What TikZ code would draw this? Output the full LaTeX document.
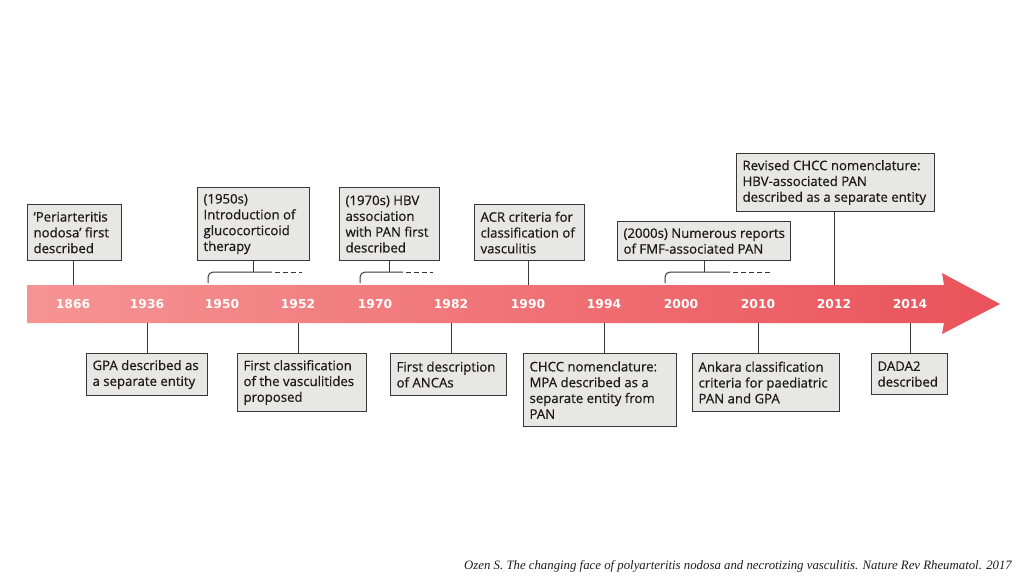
\documentclass[tikz,border=0pt]{standalone}
\usepackage{fontspec}
\setmainfont{Open Sans}
\newfontfamily\boxfont{Open Sans}[FakeBold=0.6]
\newfontfamily\yearfont{DejaVu Sans}
\newfontfamily\capfont{Liberation Serif}
\definecolor{bandL}{RGB}{246,148,148}
\definecolor{bandR}{RGB}{234,82,90}
\definecolor{boxfill}{RGB}{231,231,227}
\definecolor{boxline}{RGB}{55,55,55}
\definecolor{txt}{RGB}{30,26,27}
\begin{document}
\begin{tikzpicture}[x=1pt,y=-1pt,
  evbox/.style={draw=boxline, fill=boxfill, line width=1.1pt, anchor=north west,
    inner xsep=6pt, inner ysep=3pt, align=flush left, text=txt,
    font=\boxfont\fontsize{13.2}{15.8}\selectfont},
  yr/.style={text=white, font=\yearfont\bfseries\fontsize{12.3}{12}\selectfont, inner sep=0pt},
  link/.style={draw=boxline, line width=1pt},
  brk/.style={draw=boxline, line width=1pt, rounded corners=5pt},
  dsh/.style={draw=boxline, line width=1pt, dash pattern=on 5pt off 3pt}]
\useasboundingbox (0,0) rectangle (1024,576);
% timeline arrow
\shade[left color=bandL, right color=bandR]
  (27,285) -- (944,285) -- (942,273) -- (1000,304) -- (942,334) -- (944,323) -- (27,323) -- cycle;
\coordinate (bandtop) at (0,285);
\coordinate (bandbot) at (0,323);
\coordinate (brk) at (0,272);
% years
\foreach \n/\x in {1866/73,1936/147,1950/222,1952/298,1970/375,1982/451,1990/528,1994/604,2000/681,2010/758,2012/834,2014/910}
  \node[yr] (y\n) at (\x,304) {\n};
% top boxes
\node[evbox, text width=82pt, minimum height=56pt] (t1) at (27,204)
  {\mbox{‘Periarteritis}\\\mbox{nodosa’ first}\\\mbox{described}};
\node[evbox, text width=100pt, minimum height=73pt] (t2) at (197,187)
  {\mbox{(1950s)}\\\mbox{Introduction of}\\\mbox{glucocorticoid}\\\mbox{therapy}};
\node[evbox, text width=88pt, minimum height=73pt] (t3) at (339,187)
  {\mbox{(1970s) HBV}\\\mbox{association}\\\mbox{with PAN first}\\\mbox{described}};
\node[evbox, text width=98pt, minimum height=56pt] (t4) at (474,204)
  {\mbox{ACR criteria for}\\\mbox{classification of}\\\mbox{vasculitis}};
\node[evbox, text width=161pt, minimum height=39pt] (t5) at (617,221)
  {\mbox{(2000s) Numerous reports}\\\mbox{of FMF-associated PAN}};
\node[evbox, text width=186pt, minimum height=58pt] (t6) at (736,153)
  {\mbox{Revised CHCC nomenclature:}\\\mbox{HBV-associated PAN}\\\mbox{described as a separate entity}};
% bottom boxes
\node[evbox, text width=109pt, minimum height=42pt] (b1) at (86,353)
  {\mbox{GPA described as}\\\mbox{a separate entity}};
\node[evbox, text width=117pt, minimum height=58pt] (b2) at (237,353)
  {\mbox{First classification}\\\mbox{of the vasculitides}\\\mbox{proposed}};
\node[evbox, text width=104pt, minimum height=42pt] (b3) at (390,353)
  {\mbox{First description}\\\mbox{of ANCAs}};
\node[evbox, text width=141pt, minimum height=73pt] (b4) at (523,353)
  {\mbox{CHCC nomenclature:}\\\mbox{MPA described as a}\\\mbox{separate entity from}\\\mbox{PAN}};
\node[evbox, text width=135pt, minimum height=58pt] (b5) at (692,353)
  {\mbox{Ankara classification}\\\mbox{criteria for paediatric}\\\mbox{PAN and GPA}};
\node[evbox, text width=64pt, minimum height=41pt] (b6) at (871,353)
  {\mbox{DADA2}\\\mbox{described}};
% direct connectors (top)
\draw[link] (y1866 |- t1.south) -- (y1866 |- bandtop);
\draw[link] (y1990 |- t4.south) -- (y1990 |- bandtop);
\draw[link] (y2012 |- t6.south) -- (y2012 |- bandtop);
% bracket connectors (top)
\draw[link] (t2.south) -- (t2.south |- brk);
\draw[brk] (208,283) -- (208,272) -- (272,272);
\draw[dsh] (275,272) -- (302,272);
\draw[link] (t3.south) -- (t3.south |- brk);
\draw[brk] (360,283) -- (360,272) -- (403,272);
\draw[dsh] (406,272) -- (433,272);
\draw[link] (t5.south) -- (t5.south |- brk);
\draw[brk] (665,283) -- (665,272) -- (730,272);
\draw[dsh] (733,272) -- (770,272);
% bottom connectors
\draw[link] (y1936 |- bandbot) -- (y1936 |- b1.north);
\draw[link] (y1952 |- bandbot) -- (y1952 |- b2.north);
\draw[link] (y1982 |- bandbot) -- (y1982 |- b3.north);
\draw[link] (y1994 |- bandbot) -- (y1994 |- b4.north);
\draw[link] (y2010 |- bandbot) -- (y2010 |- b5.north);
\draw[link] (y2014 |- bandbot) -- (y2014 |- b6.north);
% caption
\node[anchor=east, inner sep=0pt, font=\capfont\itshape\fontsize{12.8}{13}\selectfont, text=txt] (cap) at (1012,566)
  {Ozen S. The changing face of polyarteritis nodosa and necrotizing vasculitis. Nature Rev Rheumatol. 2017};
\end{tikzpicture}
\end{document}
